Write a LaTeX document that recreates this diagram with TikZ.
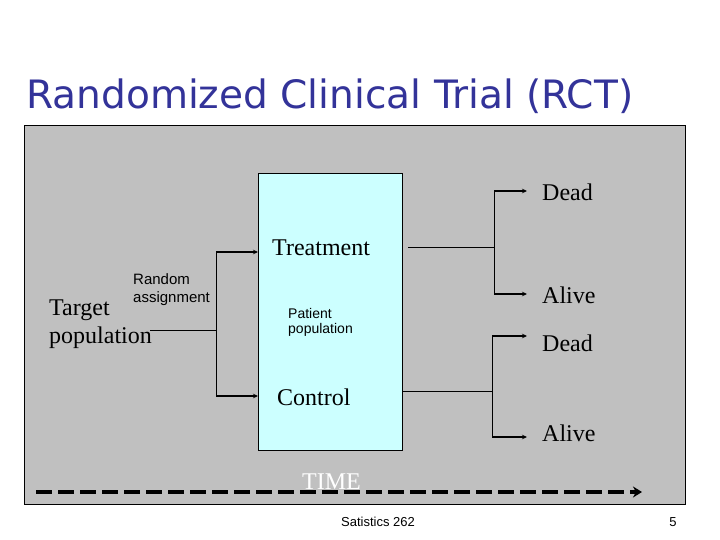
\documentclass[tikz,border=0pt]{standalone}
\usepackage{fontspec}
\setmainfont{Liberation Serif}
\newfontfamily\titlefont{DejaVu Sans}
\newfontfamily\smallsans{Liberation Sans}
\usetikzlibrary{arrows.meta}
\definecolor{titleblue}{HTML}{333399}
\definecolor{panelgray}{HTML}{C0C0C0}
\definecolor{boxcyan}{HTML}{CCFFFF}
\tikzset{
  serif24/.style={inner sep=0pt, font=\fontsize{24}{28}\selectfont},
  sans15/.style={inner sep=0pt, align=left, font=\smallsans\fontsize{15}{18}\selectfont},
  conn/.style={line width=1pt},
  arr/.style={line width=1.6pt, -{Stealth[length=5pt,width=4.5pt]}},
}
\begin{document}
\begin{tikzpicture}[x=1pt,y=-1pt]
\useasboundingbox (0,0) rectangle (720,540);
\node[anchor=base west, inner sep=0pt, text=titleblue] (title) at (26,109)
  {\titlefont\fontsize{38}{44}\selectfont\resizebox{607pt}{!}{Randomized Clinical Trial (RCT)}};
\draw[fill=panelgray, line width=1pt] (24,126) rectangle (685,504);
\draw[fill=boxcyan, line width=1pt] (258,174) rectangle (402,450);
\node[serif24, anchor=base west] (treat) at (272,255) {Treatment};
\node[serif24, anchor=base west] (control) at (277,405) {Control};
\node[anchor=base west, inner sep=0pt, align=left, font=\smallsans\fontsize{14}{15}\selectfont] (patient) at (288,333) {Patient\\population};
\node[sans15, anchor=base west] (random) at (133,302) {Random\\assignment};
\node[serif24, anchor=base west, align=left, font=\fontsize{24}{28}\selectfont] (target) at (49,343) {Target\\population};
\node[serif24, anchor=base west] (dead1) at (542,201) {Dead};
\node[serif24, anchor=base west] (alive1) at (542,303) {Alive};
\node[serif24, anchor=base west] (dead2) at (542,351) {Dead};
\node[serif24, anchor=base west] (alive2) at (542,441) {Alive};
\node[serif24, anchor=base west, text=white] (time) at (302,489) {TIME};
\node[inner sep=0pt, font=\smallsans\fontsize{13}{15}\selectfont] (footer) at (378,522) {Satistics 262};
\node[inner sep=0pt, font=\smallsans\fontsize{13}{15}\selectfont] (page) at (673,522) {5};
% left connectors
\coordinate (tgtEnd) at (150,330);
\coordinate (split) at (216,330);
\coordinate (treatIn) at (258,252);
\coordinate (ctrlIn) at (258,396);
\draw[conn] (tgtEnd) -- (split);
\draw[conn] (216,252) -- (216,396);
\draw[arr] (216,252) -- (treatIn);
\draw[arr] (216,396) -- (ctrlIn);
% right upper
\coordinate (trOut) at (408,247);
\coordinate (trSplit) at (494,247);
\draw[conn] (trOut) -- (trSplit);
\draw[conn] (494,191) -- (494,294);
\draw[arr] (494,191) -- (527,191);
\draw[arr] (494,294) -- (527,294);
% right lower
\coordinate (ctOut) at (402,391);
\coordinate (ctSplit) at (492,391);
\draw[conn] (ctOut) -- (ctSplit);
\draw[conn] (492,336) -- (492,437);
\draw[arr] (492,336) -- (527,336);
\draw[arr] (492,437) -- (527,437);
% time arrow
\coordinate (tStart) at (36,492);
\coordinate (tEnd) at (642,492);
\draw[line width=3.5pt, dash pattern=on 16pt off 6pt, -{Stealth[length=9pt,width=11pt]}] (tStart) -- (tEnd);
\end{tikzpicture}
\end{document}
